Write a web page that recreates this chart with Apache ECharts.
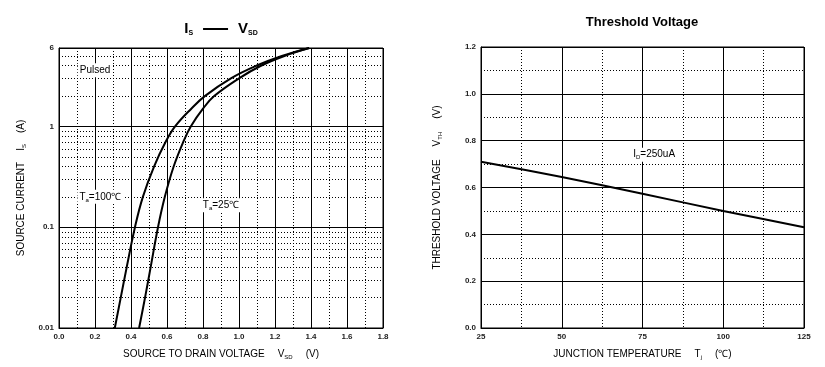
<!DOCTYPE html>
<html><head><meta charset="utf-8">
<script src="https://cdn.jsdelivr.net/npm/echarts@6/dist/echarts.min.js"></script>
<style>html,body{margin:0;padding:0;background:#fff}#c{width:825px;height:367px}</style>
</head><body><div id="c"></div>
<script>
// ---- Left chart: Is vs Vsd ----
const sourceCurrent = [0.01, 0.02, 0.04, 0.1, 0.2, 0.4, 0.7, 1, 1.5, 2, 3, 4, 5, 6];
const vsdTa100 = [0.31, 0.343, 0.376, 0.422, 0.466, 0.528, 0.592, 0.645, 0.735, 0.81, 0.955, 1.096, 1.238, 1.39];
const vsdTa25 = [0.445, 0.478, 0.509, 0.55, 0.588, 0.637, 0.69, 0.732, 0.80, 0.862, 1.0, 1.122, 1.252, 1.39];
const logMinorTicks = [0.02, 0.03, 0.04, 0.05, 0.06, 0.07, 0.08, 0.09,
                       0.2, 0.3, 0.4, 0.5, 0.6, 0.7, 0.8, 0.9,
                       2, 3, 4, 5];
const vsdAxis = { min: 0, max: 1.8, interval: 0.2 };
const isAxis = { min: 0.01, max: 6 };
const leftNotes = [
  { text: '{n|Pulsed}', x: 0.2, y: 3.6 },
  { text: '{n|T}{s|a}{n|=100℃}', x: 0.23, y: 0.2 },
  { text: '{n|T}{s|a}{n|=25℃}', x: 0.9, y: 0.165 }
];
// ---- Right chart: Threshold voltage ----
const junctionTemp = [25, 50, 75, 100, 125];
const thresholdVoltage = [0.71, 0.645, 0.573, 0.50, 0.43];
const tjAxis = { min: 25, max: 125, interval: 25 };
const vthAxis = { min: 0, max: 1.2, interval: 0.2 };
const rightNotes = [{ text: '{n|I}{s|D}{n|=250uA}', x: 78.6, y: 0.74 }];

const FONT = "'Liberation Sans', Arial, sans-serif";
const rich = {
  n: { fontSize: 10, fontFamily: FONT, color: '#000', lineHeight: 12, verticalAlign: 'middle' },
  s: { fontSize: 6, fontFamily: FONT, color: '#000', lineHeight: 4, verticalAlign: 'bottom' }
};
const gridLine = { show: true, lineStyle: { color: '#000', width: 1, type: 'solid' } };
const minorLine = { show: true, lineStyle: { color: '#000', width: 1, type: [1, 2] } };
const tickLabel = { fontSize: 8, fontWeight: 'bold', fontFamily: FONT, color: '#222' };

function noteSeries(notes, idx) {
  return {
    type: 'scatter', xAxisIndex: idx, yAxisIndex: idx, symbolSize: 0, silent: true, z: 10,
    itemStyle: { opacity: 1, color: '#000' },
    data: notes.map(d => ({ value: [d.x, d.y], label: { formatter: d.text } })),
    label: { show: true, position: 'inside', color: '#000', opacity: 1, backgroundColor: '#fff', padding: [1, 2], rich: rich },
    animation: false
  };
}

const chart = echarts.init(document.getElementById('c'), null, { renderer: 'canvas' });
chart.setOption({
  animation: false,
  backgroundColor: '#fff',
  graphic: [
    { type: 'text', x: 221, y: 29, z: 100, style: {
        text: '{b|I}{bs|S}{sp| }{ln|}{sp| }{b|V}{bs|SD}', align: 'center', verticalAlign: 'middle',
        rich: {
          b: { fontSize: 15, fontWeight: 'bold', fontFamily: FONT, fill: '#000', lineHeight: 16, verticalAlign: 'middle' },
          bs: { fontSize: 7, fontWeight: 'bold', fontFamily: FONT, fill: '#000', lineHeight: 4, verticalAlign: 'bottom' },
          sp: { width: 10 },
          ln: { width: 25, height: 2, backgroundColor: '#000' }
        } } },
    { type: 'text', x: 642, y: 22, z: 100, style: {
        text: 'Threshold Voltage', align: 'center', verticalAlign: 'middle',
        font: "bold 13px 'Liberation Sans', Arial, sans-serif", fill: '#000' } }
  ],
  grid: [
    { left: 59, right: 442, top: 48, bottom: 39, show: true, borderColor: '#000', borderWidth: 1 },
    { left: 481, right: 21, top: 47, bottom: 39, show: true, borderColor: '#000', borderWidth: 1 }
  ],
  xAxis: [
    { type: 'value', gridIndex: 0, min: vsdAxis.min, max: vsdAxis.max, interval: vsdAxis.interval,
      axisLine: { show: true, lineStyle: { color: '#000' } }, axisTick: { show: false },
      axisLabel: Object.assign({ margin: 5, formatter: v => v.toFixed(1) }, tickLabel),
      splitLine: gridLine, minorTick: { show: false, splitNumber: 2 }, minorSplitLine: minorLine,
      name: '{n|SOURCE TO DRAIN VOLTAGE}{g|}{n|V}{s|SD}{g|}{n|(V)}', nameLocation: 'middle', nameGap: 20,
      nameTextStyle: { rich: Object.assign({ g: { width: 13 } }, rich) } },
    { type: 'value', gridIndex: 1, min: tjAxis.min, max: tjAxis.max, interval: tjAxis.interval,
      axisLine: { show: true, lineStyle: { color: '#000' } }, axisTick: { show: false },
      axisLabel: Object.assign({ margin: 5 }, tickLabel),
      splitLine: gridLine, minorTick: { show: false, splitNumber: 2 }, minorSplitLine: minorLine,
      name: '{n|JUNCTION TEMPERATURE}{g|}{n|T}{s|j}{g|}{n|(℃)}', nameLocation: 'middle', nameGap: 20,
      nameTextStyle: { rich: Object.assign({ g: { width: 13 } }, rich) } }
  ],
  yAxis: [
    { type: 'log', logBase: 10, gridIndex: 0, min: isAxis.min, max: isAxis.max,
      axisLine: { show: true, lineStyle: { color: '#000' } }, axisTick: { show: false },
      axisLabel: Object.assign({ margin: 5, formatter: v => {
        const r = Math.round(v * 100) / 100; return r >= 1 ? String(Math.round(v)) : String(r); } }, tickLabel),
      splitLine: gridLine,
      name: '{n|SOURCE CURRENT}{g|}{n|I}{s|S}{g|}{n|(A)}', nameLocation: 'middle', nameGap: 32,
      nameTextStyle: { rich: Object.assign({ g: { width: 11 } }, rich) } },
    { type: 'value', gridIndex: 1, min: vthAxis.min, max: vthAxis.max, interval: vthAxis.interval,
      axisLine: { show: true, lineStyle: { color: '#000' } }, axisTick: { show: false },
      axisLabel: Object.assign({ margin: 5, formatter: v => v.toFixed(1) }, tickLabel),
      splitLine: gridLine, minorTick: { show: false, splitNumber: 2 }, minorSplitLine: minorLine,
      name: '{n|THRESHOLD VOLTAGE}{g|}{n|V}{s|TH}{g|}{n|(V)}', nameLocation: 'middle', nameGap: 38,
      nameTextStyle: { rich: Object.assign({ g: { width: 13 } }, rich) } }
  ],
  series: [
    { type: 'line', xAxisIndex: 0, yAxisIndex: 0, z: 3, showSymbol: false, smooth: 0.4, silent: true,
      data: sourceCurrent.map((c, i) => [vsdTa100[i], c]),
      lineStyle: { color: '#000', width: 2 },
      markLine: { silent: true, symbol: 'none', z: 1, animation: false, label: { show: false },
        lineStyle: { color: '#000', width: 1, type: [1, 2] },
        data: logMinorTicks.map(v => ({ yAxis: v })) } },
    { type: 'line', xAxisIndex: 0, yAxisIndex: 0, z: 3, showSymbol: false, smooth: 0.4, silent: true,
      data: sourceCurrent.map((c, i) => [vsdTa25[i], c]),
      lineStyle: { color: '#000', width: 2 } },
    { type: 'line', xAxisIndex: 1, yAxisIndex: 1, z: 3, showSymbol: false, smooth: 0.3, silent: true,
      data: junctionTemp.map((t, i) => [t, thresholdVoltage[i]]),
      lineStyle: { color: '#000', width: 2 } },
    noteSeries(leftNotes, 0),
    noteSeries(rightNotes, 1)
  ]
});
</script></body></html>
